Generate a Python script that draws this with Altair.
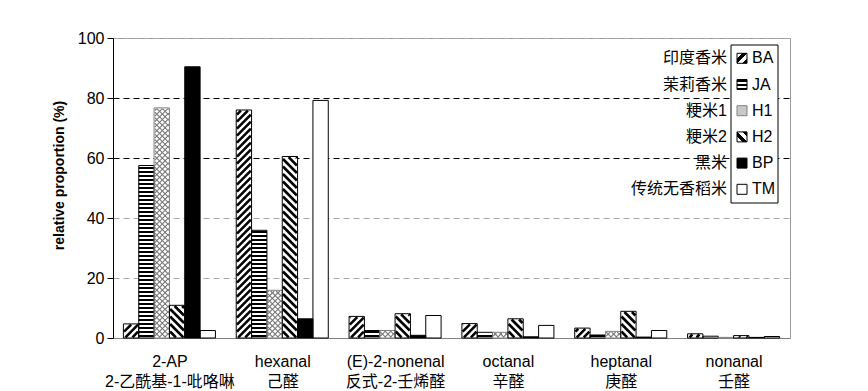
import altair as alt
import pandas as pd

# ---------------- data ----------------
CATEGORIES_EN = ["2-AP", "hexanal", "(E)-2-nonenal", "octanal", "heptanal", "nonanal"]
CATEGORIES_CN = ["2-乙酰基-1-吡咯啉", "己醛", "反式-2-壬烯醛", "辛醛", "庚醛", "壬醛"]
SERIES = ["BA", "JA", "H1", "H2", "BP", "TM"]
SERIES_CN = ["印度香米", "茉莉香米", "粳米1", "粳米2", "黑米", "传统无香稻米"]

BA = [4.7, 76.0, 7.2, 4.8, 3.3, 1.4]
JA = [57.5, 35.9, 2.5, 1.9, 1.0, 0.6]
H1 = [76.7, 15.9, 2.5, 1.9, 2.2, 0.2]
H2 = [10.9, 60.5, 8.1, 6.4, 8.9, 0.8]
BP = [90.4, 6.4, 0.9, 0.4, 0.3, 0.2]
TM = [2.5, 79.2, 7.5, 4.2, 2.5, 0.5]
Y_TICKS = [0, 20, 40, 60, 80, 100]

VALUES = {"BA": BA, "JA": JA, "H1": H1, "H2": H2, "BP": BP, "TM": TM}

# ---------------- layout constants ----------------
W, H = 677, 300
XMAX, YMAX = len(CATEGORIES_EN), 100
KX = W / XMAX          # px per x unit
KY = H / YMAX          # px per y unit
GAP_PX = 10.4
BAR_PX = (W / XMAX - 2 * GAP_PX) / len(SERIES)
FONT = "Liberation Sans, Arial, Noto Sans CJK SC, sans-serif"

# ---------------- bar table ----------------
rows = []
for i, cat in enumerate(CATEGORIES_EN):
    for j, s in enumerate(SERIES):
        x0 = i + (GAP_PX + j * BAR_PX) / KX
        rows.append(dict(cat=cat, series=s, x0=x0, x1=x0 + BAR_PX / KX,
                         v=VALUES[s][i], y0=0.0))
bars = pd.DataFrame(rows)

# ---------------- hatch segments (derived from the bars) ----------------
PATTERNS = {
    "BA": [("/", 7.0, "diag")],
    "JA": [("-", 4.0, "horiz")],
    "H1": [("/", 5.5, "cross"), ("\\", 5.5, "cross")],
    "H2": [("\\", 7.5, "diag")],
}


def segments(w, h, kind, period):
    segs = []
    e = 0.7
    if kind == "-":
        y = period / 2
        while y + 1 <= h:
            segs.append((0.0, y, w, y))
            y += period
        return segs
    lo_t, hi_t, lo_y, hi_y = e, w - e, e, h - e
    if hi_y <= lo_y:
        return segs
    c = -w
    while c <= h + w:
        if kind == "/":
            t0, t1 = max(lo_t, lo_y - c), min(hi_t, hi_y - c)
            if t1 - t0 > 0.3:
                segs.append((t0, c + t0, t1, c + t1))
        else:
            t0, t1 = max(lo_t, c - hi_y), min(hi_t, c - lo_y)
            if t1 - t0 > 0.3:
                segs.append((t0, c - t0, t1, c - t1))
        c += period
    return segs


hrows = []
for _, b in bars.iterrows():
    for kind, period, style in PATTERNS.get(b.series, []):
        w = (b.x1 - b.x0) * KX
        h = b.v * KY
        for t0, ya, t1, yb in segments(w, h, kind, period):
            hrows.append(dict(series=b.series, style=style,
                              x=b.x0 + t0 / KX, x2=b.x0 + t1 / KX,
                              y=ya / KY, y2=yb / KY))
hatch = pd.DataFrame(hrows)

xscale = alt.Scale(domain=[0, XMAX], nice=False, zero=False)
yscale = alt.Scale(domain=[0, YMAX], nice=False)

label_expr = "[" + ",".join(
    f"['{en}','{cn}']" for en, cn in zip(CATEGORIES_EN, CATEGORIES_CN)
) + "][floor(datum.value)]"

x_axis = alt.Axis(values=[i + 0.5 for i in range(XMAX)], labelExpr=label_expr,
                  ticks=False, domainColor="#808080", labelFontSize=16,
                  labelLineHeight=20, labelPadding=15, labelColor="black",
                  labelFont=FONT, labelAngle=0, labelFlush=False,
                  labelOverlap=False, grid=False, title=None)
y_axis = alt.Axis(values=Y_TICKS, tickSize=6, tickColor="black", domainColor="black",
                  labelFontSize=16, labelPadding=3, labelColor="black", labelFont=FONT,
                  grid=True, gridDash=[6, 4],
                  gridColor={"condition": {"test": "datum.value >= 60 && datum.value <= 80",
                                           "value": "black"}, "value": "#a8a8a8"},
                  title="relative proportion (%)", titleFont=FONT, titleFontSize=14,
                  titleFontWeight="bold", titleColor="black", titleAngle=-90,
                  titleX=-50, titleY=137, titleAlign="center", titleBaseline="alphabetic")

base = alt.Chart(bars).mark_rect(strokeWidth=0).encode(
    x=alt.X("x0:Q", scale=xscale, axis=x_axis),
    x2="x1",
    y=alt.Y("v:Q", scale=yscale, axis=y_axis),
    y2="y0",
    fill=alt.Fill("series:N", scale=alt.Scale(domain=SERIES,
                  range=["white", "white", "white", "white", "black", "white"]), legend=None),
)


def hatch_layer(style, color, width):
    return alt.Chart(hatch).transform_filter(
        alt.datum.style == style
    ).mark_rule(color=color, strokeWidth=width, strokeCap="butt").encode(
        x=alt.X("x:Q", scale=xscale, axis=x_axis), x2="x2",
        y=alt.Y("y:Q", scale=yscale, axis=y_axis), y2="y2",
    )


outline = alt.Chart(bars).mark_rect(fillOpacity=0, strokeWidth=1).encode(
    x=alt.X("x0:Q", scale=xscale, axis=x_axis), x2="x1",
    y=alt.Y("v:Q", scale=yscale, axis=y_axis), y2="y0",
    stroke=alt.Stroke("series:N", scale=alt.Scale(domain=SERIES,
                      range=["black", "black", "#808080", "black", "black", "black"]), legend=None),
)

main = alt.layer(
    base,
    hatch_layer("cross", "#777777", 1.1),
    hatch_layer("horiz", "black", 2.0),
    hatch_layer("diag", "black", 2.6),
    outline,
)

# ---------------- legend ----------------
leg = pd.DataFrame({"code": SERIES, "cn": SERIES_CN})
ly = alt.Y("code:N", scale=alt.Scale(type="point", domain=SERIES, range=[20.3, 151.3], padding=0),
           axis=None)

box = alt.Chart(pd.DataFrame({"k": [0]})).mark_rect(
    fill="white", stroke="black", strokeWidth=1
).encode(x=alt.value(618), x2=alt.value(665), y=alt.value(7), y2=alt.value(165))


def stripes(colors, x1, y1, x2, y2):
    stops = []
    n = len(colors)
    for k, c in enumerate(colors):
        stops.append(alt.GradientStop(offset=k / n, color=c))
        stops.append(alt.GradientStop(offset=(k + 1) / n, color=c))
    return alt.LinearGradient(gradient="linear", stops=stops, x1=x1, y1=y1, x2=x2, y2=y2)


SWATCH = {
    "BA": (stripes(["white", "black", "white", "black"], 0, 0, 1, 1), "black"),
    "JA": (stripes(["black", "white", "black", "white", "black"], 0, 0, 0, 1), "black"),
    "H1": ("#c8c8c8", "#808080"),
    "H2": (stripes(["white", "black", "white", "black"], 0, 1, 1, 0), "black"),
    "BP": ("black", "black"),
    "TM": ("white", "black"),
}

squares = [
    alt.Chart(leg).transform_filter(alt.datum.code == s).mark_square(
        size=100, filled=True, fill=SWATCH[s][0], stroke=SWATCH[s][1],
        strokeWidth=1, opacity=1
    ).encode(x=alt.value(629), y=ly)
    for s in SERIES
]

codes = alt.Chart(leg).mark_text(align="left", baseline="middle", fontSize=16,
                                 font=FONT, color="black").encode(
    x=alt.value(639), y=ly, text="code:N")
names = alt.Chart(leg).mark_text(align="right", baseline="middle", fontSize=16,
                                 font=FONT, color="black").encode(
    x=alt.value(614), y=ly, text="cn:N")

legend = alt.layer(box, *squares, codes, names)

chart = alt.layer(main, legend).resolve_scale(y="independent").properties(
    width=W, height=H,
    autosize=alt.AutoSizeParams(type="none"),
    padding={"left": 105, "top": 30, "right": 70, "bottom": 52},
    background="white",
).configure_view(stroke="#999999", strokeWidth=1)

chart.save("out.html", embed_options={"renderer": "svg", "actions": False})
